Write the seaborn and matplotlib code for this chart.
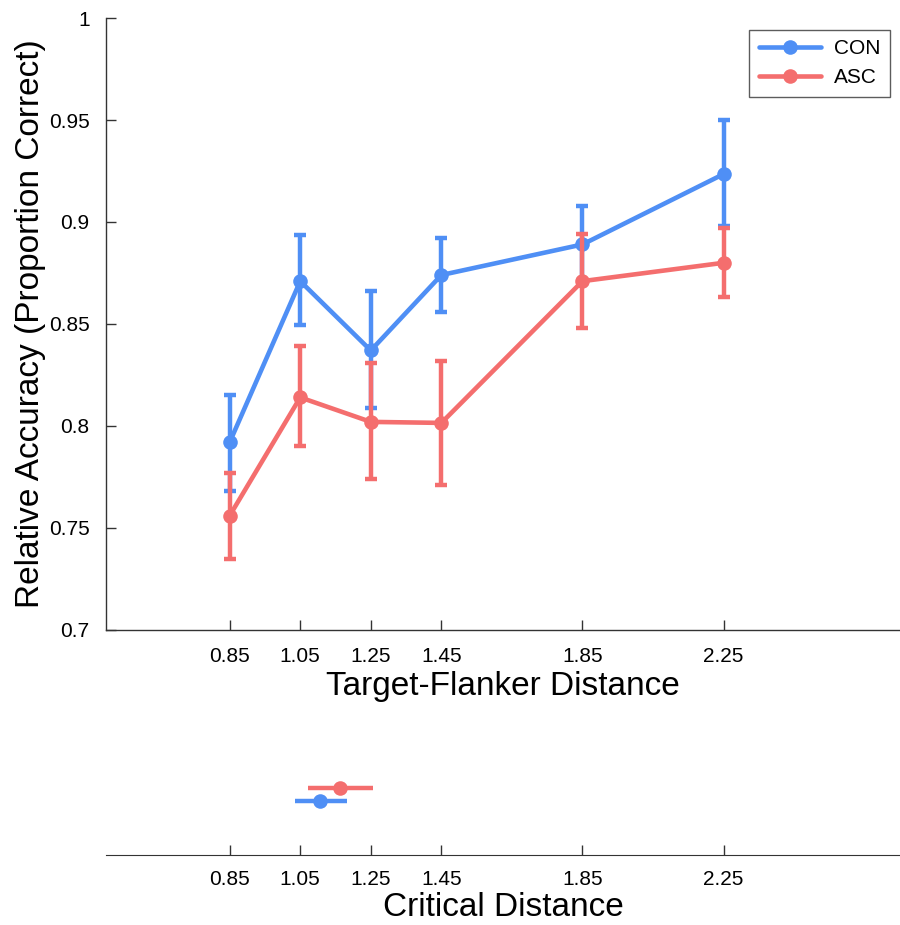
import numpy as np
import pandas as pd
import matplotlib
matplotlib.use("Agg")
import matplotlib.pyplot as plt
import seaborn as sns

distances = [0.85, 1.05, 1.25, 1.45, 1.85, 2.25]
tick_labels = ["0.85", "1.05", "1.25", "1.45", "1.85", "2.25"]

con_mean = [0.792, 0.871, 0.837, 0.874, 0.889, 0.9235]
con_lo = [0.768, 0.8495, 0.809, 0.856, 0.870, 0.898]
con_hi = [0.815, 0.8935, 0.866, 0.892, 0.908, 0.950]

asc_mean = [0.756, 0.814, 0.802, 0.8015, 0.871, 0.880]
asc_lo = [0.735, 0.790, 0.774, 0.771, 0.848, 0.863]
asc_hi = [0.777, 0.839, 0.831, 0.832, 0.894, 0.897]

groups = ["CON", "ASC"]
crit_mean = [1.107, 1.164]
crit_lo = [1.034, 1.073]
crit_hi = [1.183, 1.257]
crit_row = [1, 2]

colors = {"CON": "#4f8ff5", "ASC": "#f46e6e"}

sns.set_style("white")
plt.rcParams["font.family"] = ["Liberation Sans", "DejaVu Sans"]
plt.rcParams["text.color"] = "black"
plt.rcParams["axes.labelcolor"] = "black"

df = pd.DataFrame({
    "distance": distances * 2,
    "accuracy": con_mean + asc_mean,
    "group": ["CON"] * len(distances) + ["ASC"] * len(distances),
})

fig = plt.figure(figsize=(9, 9.25), dpi=100)
ax = fig.add_axes([0.118, 0.319, 0.882, 0.6615])
ax2 = fig.add_axes([0.118, 0.0757, 0.882, 0.1027])

# error bars first, lines + markers on top
for g, mean, lo, hi in [("CON", con_mean, con_lo, con_hi), ("ASC", asc_mean, asc_lo, asc_hi)]:
    m = np.array(mean)
    yerr = [m - np.array(lo), np.array(hi) - m]
    ax.errorbar(distances, m, yerr=yerr, fmt="none", ecolor=colors[g],
                elinewidth=3.2, capsize=4, capthick=3.2)
    sns.lineplot(data=df[df.group == g], x="distance", y="accuracy", ax=ax,
                 color=colors[g], lw=3.3, marker="o", markersize=10.5,
                 markeredgewidth=0, label=g)

ax.set_xlim(0.5, 2.75)
ax.set_ylim(0.7, 1.0)
ax.set_xticks(distances)
ax.set_xticklabels(tick_labels)
ax.set_yticks([0.7, 0.75, 0.8, 0.85, 0.9, 0.95, 1.0])
ax.set_yticklabels(["0.7", "0.75", "0.8", "0.85", "0.9", "0.95", "1"])
ax.tick_params(axis="both", direction="in", length=7, width=1, colors="#333333",
               labelcolor="black", labelsize=15, bottom=True, left=True)
ax.tick_params(axis="x", pad=12)
ax.tick_params(axis="y", pad=12)
for s in ["top", "right"]:
    ax.spines[s].set_visible(False)
for s in ["left", "bottom"]:
    ax.spines[s].set_color("#333333")
    ax.spines[s].set_linewidth(1)
ax.set_xlabel("Target-Flanker Distance", fontsize=24, labelpad=4)
ax.set_ylabel("Relative Accuracy (Proportion Correct)", fontsize=24, labelpad=2)

leg = ax.legend(loc="upper right", bbox_to_anchor=(1.0, 0.998), fontsize=15,
                fancybox=False, frameon=True, handlelength=3.0,
                borderpad=0.45, labelspacing=0.5, handletextpad=0.6)
leg.get_frame().set_edgecolor("#333333")
leg.get_frame().set_linewidth(1)

# critical distance panel
for g, m, lo, hi, r in zip(groups, crit_mean, crit_lo, crit_hi, crit_row):
    ax2.errorbar([m], [r], xerr=[[m - lo], [hi - m]], fmt="none",
                 ecolor=colors[g], elinewidth=3.2, capsize=0)
    sns.scatterplot(x=[m], y=[r], ax=ax2, color=colors[g], s=110, linewidth=0)

ax2.set_xlim(0.5, 2.75)
ax2.set_ylim(-3.15, 4.15)
ax2.set_xticks(distances)
ax2.set_xticklabels(tick_labels)
ax2.set_yticks([])
ax2.tick_params(axis="x", direction="in", length=7, width=1, colors="#333333",
                labelcolor="black", labelsize=15, pad=11, bottom=True)
for s in ["top", "right", "left"]:
    ax2.spines[s].set_visible(False)
ax2.spines["bottom"].set_color("#333333")
ax2.set_xlabel("Critical Distance", fontsize=24, labelpad=2)

fig.savefig("out.png", dpi=100)
